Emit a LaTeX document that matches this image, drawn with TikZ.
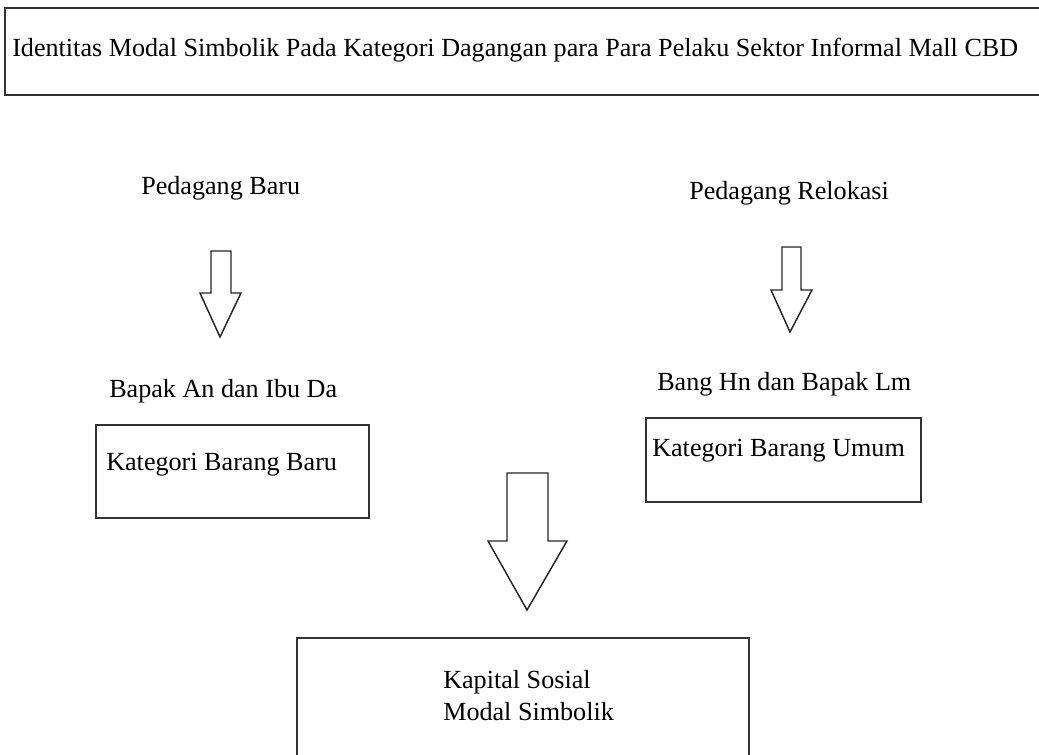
\documentclass[tikz,border=0pt]{standalone}
\usepackage{fontspec}
\setmainfont{Liberation Serif}
\tikzset{
    lbl/.style={anchor=base west, inner sep=0pt, font=\fontsize{19.6}{24}\selectfont},
    kotak/.style={draw=black!80, line width=1.2pt},
    panah/.style={draw=black!85, line width=1.1pt, line join=miter}
}
\begin{document}
\begin{tikzpicture}[x=0.75pt,y=-0.75pt]
        \useasboundingbox (0,0) rectangle (1039,755);
        \clip (0,0) rectangle (1039,755);
        % kotak
        \draw[kotak] (5,8) rectangle (1045,95);
        \draw[kotak] (96,425) rectangle (369,518);
        \draw[kotak] (646,418) rectangle (921,502);
        \draw[kotak] (297,638) rectangle (749,770);
        % teks
        \node[lbl] (judul) at (12,57) {Identitas Modal Simbolik Pada Kategori Dagangan para Para Pelaku Sektor Informal Mall CBD};
        \node[lbl] (pbaru) at (141,195) {Pedagang Baru};
        \node[lbl] (prelokasi) at (689,200) {Pedagang Relokasi};
        \node[lbl] (anda) at (109,398) {Bapak An dan Ibu Da};
        \node[lbl] (hnlm) at (657,391) {Bang Hn dan Bapak Lm};
        \node[lbl] (kbaru) at (106,470) {Kategori Barang Baru};
        \node[lbl] (kumum) at (652,457) {Kategori Barang Umum};
        \node[lbl] (kapital) at (443,688) {Kapital Sosial};
        \node[lbl] (simbolik) at (443,720) {Modal Simbolik};
        % panah
        \draw[panah] (211,251) -- (231,251) -- (231,293) -- (241,293) -- (220,337)
            -- (200,293) -- (211,293) -- cycle;
        \draw[panah] (782,247) -- (801,247) -- (801,290) -- (812,290) -- (790,332)
            -- (771,290) -- (782,290) -- cycle;
        \draw[panah] (507,473) -- (548,473) -- (548,541) -- (567,541) -- (527,610)
            -- (488,541) -- (507,541) -- cycle;
\end{tikzpicture}
\end{document}
